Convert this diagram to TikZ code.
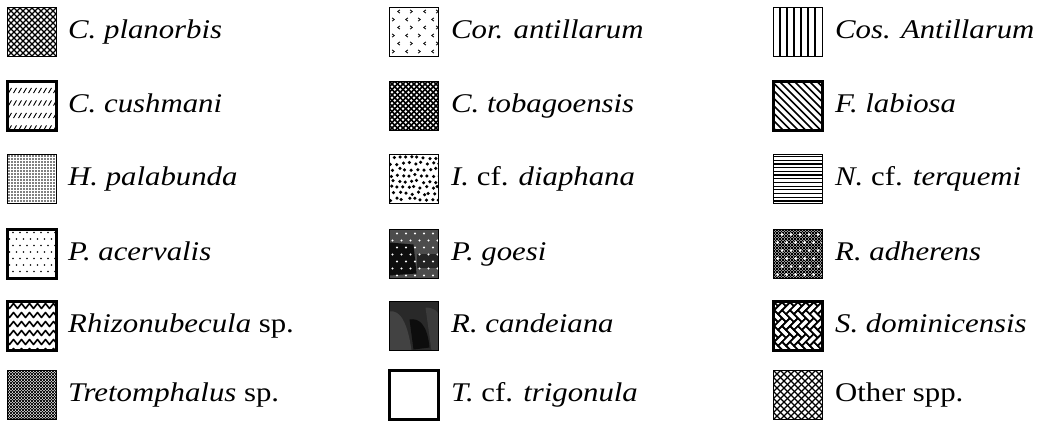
\documentclass[tikz,border=0pt]{standalone}
\usepackage{fontspec}
\setmainfont{Liberation Serif}[FakeStretch=1.14]
\tikzset{
  sw/.style={fill=white, minimum size=49pt, inner sep=0pt, outer sep=0pt},
  lab/.style={anchor=base west, inner sep=0pt, font=\fontsize{27}{32}\selectfont},
}
% \swatch{name}{x}{y}{border width}{pattern}
\newcommand\swatch[5]{%
  \node[sw] (#1) at (#2,#3) {};
  \begin{scope}
    \clip (#1.south west) rectangle (#1.north east);
    \begin{scope}[shift={(#2-24.5,#3-24.5)}]#5\end{scope}
  \end{scope}
  \draw[line width=#4] (#1.south west) rectangle (#1.north east);}
% patterns, coordinates 0..49 with y downwards
\newcommand\patNone{}
\newcommand\patPlanorbis{\foreach \i in {-54,-48,...,54}{\draw[line width=1.25pt] (\i,0) -- ++(49,49); \draw[line width=1.25pt] (\i,49) -- ++(49,-49);}}
\newcommand\patCushmani{\foreach \r in {9,21.5,34,46.5}{\foreach \c in {1,6,...,50}{\draw[line width=0.9pt] (\c,\r+2.6) -- (\c+3,\r-2.6);}}}
\newcommand\patPalabunda{\foreach \r in {1.5,4.5,...,49}{\foreach \c in {1.5,4.5,...,49}{\fill (\c,\r) circle (0.85);}}}
\newcommand\patAcervalis{\foreach \r [count=\n] in {3,9.5,...,49}{\foreach \c in {2,9,...,52}{\fill ({\c+mod(\n,2)*3.5},\r) circle (0.8);}}}
\newcommand\patRhizo{\foreach \r in {5,14,23,32,41,50}{\draw[line width=1.6pt, line join=round] (-4,\r) \foreach \c in {-4,4,...,52}{ -- (\c+2,\r-3) -- (\c+6,\r+2)};}}
\newcommand\patTretom{\foreach \i in {-51,-48,...,51}{\draw[line width=0.7pt] (\i,0) -- ++(49,49); \draw[line width=0.7pt] (\i,49) -- ++(49,-49);}}
\newcommand\patCor{\foreach \r [count=\n] in {4,12,...,48}{\foreach \c [count=\m] in {4,17,30,43}{%
  \pgfmathtruncatemacro\dir{mod(\n+\m,2)}%
  \ifnum\dir=0 \draw[line width=0.8pt] ({\c+mod(\n,2)*5+1.4},\r-1.6) -- ({\c+mod(\n,2)*5-0.8},\r) -- ({\c+mod(\n,2)*5+1.4},\r+1.6);
  \else \draw[line width=0.8pt] ({\c+mod(\n,2)*5-1.4},\r-1.6) -- ({\c+mod(\n,2)*5+0.8},\r) -- ({\c+mod(\n,2)*5-1.4},\r+1.6); \fi}}}
\newcommand\patTobago{\foreach \i in {-55,-49.5,...,55}{\draw[line width=1.7pt] (\i,0) -- ++(49,49); \draw[line width=1.7pt] (\i,49) -- ++(49,-49);}}
\newcommand\patDiaphana{\pgfmathsetseed{11}\foreach \r [count=\n] in {3,9,...,49}{\foreach \c in {1,7,...,52}{%
  \pgfmathsetmacro\dx{rand*1.4}\pgfmathsetmacro\dy{rand*1.4}%
  \fill ({\c+\dx+mod(\n,2)*3},{\r+\dy}) circle (1.75);}}}
\newcommand\patGoesi{\fill[black!70] (0,0) rectangle (49,49);
  \fill[black!95] (0,13) -- (24,15) -- (27,44) -- (0,46) -- cycle;
  \fill[black!86] (27,24) rectangle (49,38);
  \foreach \r [count=\n] in {4,11,...,49}{\foreach \c in {3,12,...,52}{\fill[white] ({\c+mod(\n,2)*4.5},\r) circle (1.1);}}}
\newcommand\patCandeiana{\fill[black!84] (0,0) rectangle (49,49);
  \fill[black!74] (0,10) .. controls (10,8) and (18,20) .. (22,49) -- (0,49) -- cycle;
  \fill[black!77] (36,6) .. controls (44,6) and (49,10) .. (49,14) -- (49,49) -- (42,49) -- cycle;
  \fill[black!95] (20,18) .. controls (30,16) and (38,24) .. (40,46) -- (24,48) -- cycle;}
\newcommand\patCos{\foreach \c in {6.5,13.5,...,44}{\draw[line width=1.3pt] (\c,0) -- (\c,49);}}
\newcommand\patLabiosa{\foreach \i in {-54,-46.5,...,54}{\draw[line width=1.5pt] (\i,0) -- ++(49,49);}}
\newcommand\patTerquemi{\foreach \r in {2,5.7,...,49}{\draw[line width=1.2pt] (0,\r) -- (49,\r);}}
\newcommand\patAdherens{\foreach \i in {-51,-48,...,51}{\draw[line width=0.75pt] (\i,0) -- ++(49,49); \draw[line width=0.75pt] (\i,49) -- ++(49,-49);}
  \foreach \r [count=\n] in {5,13,...,49}{\foreach \c in {4,13,...,52}{\fill[white] ({\c+mod(\n,2)*4.5},\r) circle (1.5);}}}
\newcommand\patDomin{\fill (0,0) rectangle (49,49);
  \begin{scope}[shift={(24.5,24.5)}, rotate=45, scale=5.6]
  \foreach \k in {-10,...,10}{\foreach \m in {-5,...,5}{%
    \filldraw[fill=white, draw=black, line width=1.7pt] ({\k-2*\m},{\k+2*\m}) rectangle ++(2,1);
    \filldraw[fill=white, draw=black, line width=1.7pt] ({\k+2-2*\m},{\k-1+2*\m}) rectangle ++(1,2);}}
  \end{scope}}
\newcommand\patOther{\foreach \i in {-56,-49,...,56}{\draw[line width=1.2pt] (\i,0) -- ++(49,49); \draw[line width=1.2pt] (\i,49) -- ++(49,-49);}}
\begin{document}
\begin{tikzpicture}[x=1pt, y=-1pt]
\useasboundingbox (0,0) rectangle (1045,421);
% column 1
\swatch{s1}{32}{32}{1.3pt}{\patPlanorbis}
\swatch{s2}{32}{106}{3.2pt}{\patCushmani}
\swatch{s3}{32}{179}{1.3pt}{\patPalabunda}
\swatch{s4}{32}{254}{3.2pt}{\patAcervalis}
\swatch{s5}{32}{326}{3.2pt}{\patRhizo}
\swatch{s6}{32}{395}{1.3pt}{\patTretom}
% column 2
\swatch{s7}{414}{32}{1.3pt}{\patCor}
\swatch{s8}{414}{106}{1.3pt}{\patTobago}
\swatch{s9}{414}{179}{1.3pt}{\patDiaphana}
\swatch{s10}{414}{254}{1.3pt}{\patGoesi}
\swatch{s11}{414}{326}{1.3pt}{\patCandeiana}
\swatch{s12}{414}{395}{3.2pt}{\patNone}
% column 3
\swatch{s13}{798}{32}{1.3pt}{\patCos}
\swatch{s14}{798}{106}{3.2pt}{\patLabiosa}
\swatch{s15}{798}{179}{1.3pt}{\patTerquemi}
\swatch{s16}{798}{254}{1.3pt}{\patAdherens}
\swatch{s17}{798}{326}{3.2pt}{\patDomin}
\swatch{s18}{798}{395}{1.3pt}{\patOther}
% labels
\node[lab] (t1) at (68,38) {\textit{C. planorbis}};
\node[lab] (t2) at (68,112) {\textit{C. cushmani}};
\node[lab] (t3) at (68,185) {\textit{H. palabunda}};
\node[lab] (t4) at (68,260) {\textit{P. acervalis}};
\node[lab] (t5) at (68,332) {\textit{Rhizonubecula} sp.};
\node[lab] (t6) at (68,401) {\textit{Tretomphalus} sp.};
\node[lab] (t7) at (451,38) {\textit{Cor. antillarum}};
\node[lab] (t8) at (451,112) {\textit{C. tobagoensis}};
\node[lab] (t9) at (451,185) {\textit{I.} cf. \textit{diaphana}};
\node[lab] (t10) at (451,260) {\textit{P. goesi}};
\node[lab] (t11) at (451,332) {\textit{R. candeiana}};
\node[lab] (t12) at (451,401) {\textit{T.} cf. \textit{trigonula}};
\node[lab] (t13) at (835,38) {\textit{Cos. Antillarum}};
\node[lab] (t14) at (835,112) {\textit{F. labiosa}};
\node[lab] (t15) at (835,185) {\textit{N.} cf. \textit{terquemi}};
\node[lab] (t16) at (835,260) {\textit{R. adherens}};
\node[lab] (t17) at (835,332) {\textit{S. dominicensis}};
\node[lab] (t18) at (835,401) {Other spp.};
\end{tikzpicture}
\end{document}
